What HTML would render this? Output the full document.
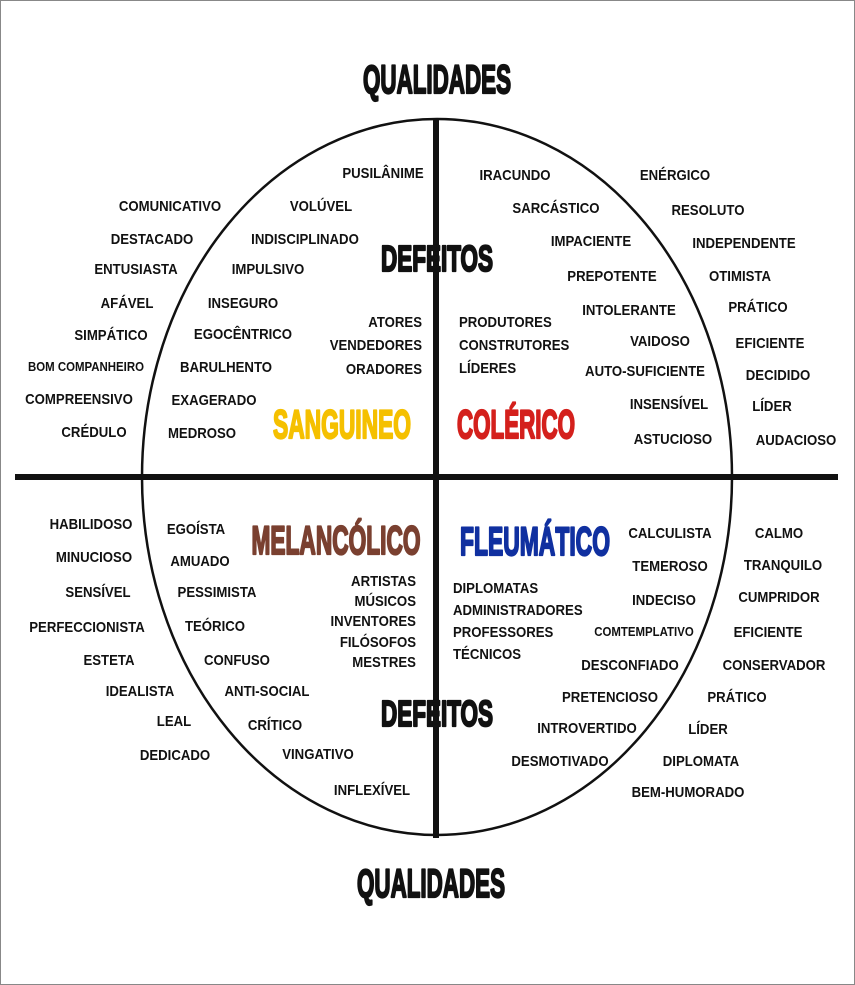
<!DOCTYPE html>
<html><head><meta charset="utf-8"><style>
html,body{margin:0;padding:0;background:#fff}
svg{display:block}
text{font-family:"Liberation Sans",sans-serif;font-weight:bold;font-size:15px;fill:#111;transform-box:fill-box;transform-origin:center;transform:scaleX(.88)}
.s{font-size:13px}
.b{font-size:40px;transform:none;stroke-width:2.2px;stroke-linejoin:round}
.m{text-anchor:middle}
.e{text-anchor:end;transform-origin:right}
.l{transform-origin:left}
</style></head><body>
<svg width="855" height="985" viewBox="0 0 855 985" xmlns="http://www.w3.org/2000/svg">
<rect x="0.5" y="0.5" width="854" height="984" fill="#fff" stroke="#888" stroke-width="1"/>
<ellipse cx="437" cy="477" rx="295" ry="358" fill="none" stroke="#111" stroke-width="2.5"/>
<line x1="15" y1="477" x2="838" y2="477" stroke="#111" stroke-width="6"/>
<line x1="436" y1="120" x2="436" y2="838" stroke="#111" stroke-width="6"/>

<text class="b m" x="437" y="93" textLength="148" lengthAdjust="spacingAndGlyphs" style="stroke:#111">QUALIDADES</text>
<text class="b m" x="431" y="897" textLength="148" lengthAdjust="spacingAndGlyphs" style="stroke:#111">QUALIDADES</text>
<text class="b m" x="437" y="271" textLength="112" lengthAdjust="spacingAndGlyphs" style="font-size:36px;stroke:#111">DEFEITOS</text>
<text class="b m" x="437" y="726" textLength="112" lengthAdjust="spacingAndGlyphs" style="font-size:36px;stroke:#111">DEFEITOS</text>
<text class="b m" x="342" y="438" textLength="138" lengthAdjust="spacingAndGlyphs" style="fill:#f5c000;stroke:#f5c000">SANGUINEO</text>
<text class="b m" x="516" y="438" textLength="118" lengthAdjust="spacingAndGlyphs" style="fill:#d4201c;stroke:#d4201c">COLÉRICO</text>
<text class="b m" x="336" y="554" textLength="169" lengthAdjust="spacingAndGlyphs" style="fill:#7a4030;stroke:#7a4030">MELANCÓLICO</text>
<text class="b m" x="535" y="555" textLength="150" lengthAdjust="spacingAndGlyphs" style="fill:#1030a0;stroke:#1030a0">FLEUMÁTICO</text>

<g>
<text class="m" x="383" y="178">PUSILÂNIME</text>
<text class="m" x="170" y="211">COMUNICATIVO</text>
<text class="m" x="321" y="211">VOLÚVEL</text>
<text class="m" x="152" y="244">DESTACADO</text>
<text class="m" x="305" y="244">INDISCIPLINADO</text>
<text class="m" x="136" y="274">ENTUSIASTA</text>
<text class="m" x="268" y="274">IMPULSIVO</text>
<text class="m" x="127" y="308">AFÁVEL</text>
<text class="m" x="243" y="308">INSEGURO</text>
<text class="m" x="111" y="340">SIMPÁTICO</text>
<text class="m" x="243" y="339">EGOCÊNTRICO</text>
<text class="e" x="422" y="327">ATORES</text>
<text class="e" x="422" y="350">VENDEDORES</text>
<text class="e" x="422" y="374">ORADORES</text>
<text class="m s" x="86" y="371">BOM COMPANHEIRO</text>
<text class="m" x="226" y="372">BARULHENTO</text>
<text class="m" x="79" y="404">COMPREENSIVO</text>
<text class="m" x="214" y="405">EXAGERADO</text>
<text class="m" x="94" y="437">CRÉDULO</text>
<text class="m" x="202" y="438">MEDROSO</text>

<text class="m" x="515" y="180">IRACUNDO</text>
<text class="m" x="675" y="180">ENÉRGICO</text>
<text class="m" x="556" y="213">SARCÁSTICO</text>
<text class="m" x="708" y="215">RESOLUTO</text>
<text class="m" x="591" y="246">IMPACIENTE</text>
<text class="m" x="744" y="248">INDEPENDENTE</text>
<text class="m" x="612" y="281">PREPOTENTE</text>
<text class="m" x="740" y="281">OTIMISTA</text>
<text class="m" x="629" y="315">INTOLERANTE</text>
<text class="m" x="758" y="312">PRÁTICO</text>
<text class="l" x="459" y="327">PRODUTORES</text>
<text class="l" x="459" y="350">CONSTRUTORES</text>
<text class="l" x="459" y="373">LÍDERES</text>
<text class="m" x="660" y="346">VAIDOSO</text>
<text class="m" x="770" y="348">EFICIENTE</text>
<text class="m" x="645" y="376">AUTO-SUFICIENTE</text>
<text class="m" x="778" y="380">DECIDIDO</text>
<text class="m" x="669" y="409">INSENSÍVEL</text>
<text class="m" x="772" y="411">LÍDER</text>
<text class="m" x="673" y="444">ASTUCIOSO</text>
<text class="m" x="796" y="445">AUDACIOSO</text>

<text class="m" x="91" y="529">HABILIDOSO</text>
<text class="m" x="196" y="534">EGOÍSTA</text>
<text class="m" x="94" y="562">MINUCIOSO</text>
<text class="m" x="200" y="566">AMUADO</text>
<text class="m" x="98" y="597">SENSÍVEL</text>
<text class="m" x="217" y="597">PESSIMISTA</text>
<text class="e" x="416" y="586">ARTISTAS</text>
<text class="e" x="416" y="606">MÚSICOS</text>
<text class="e" x="416" y="626">INVENTORES</text>
<text class="e" x="416" y="647">FILÓSOFOS</text>
<text class="e" x="416" y="667">MESTRES</text>
<text class="m" x="87" y="632">PERFECCIONISTA</text>
<text class="m" x="215" y="631">TEÓRICO</text>
<text class="m" x="109" y="665">ESTETA</text>
<text class="m" x="237" y="665">CONFUSO</text>
<text class="m" x="140" y="696">IDEALISTA</text>
<text class="m" x="267" y="696">ANTI-SOCIAL</text>
<text class="m" x="174" y="726">LEAL</text>
<text class="m" x="275" y="730">CRÍTICO</text>
<text class="m" x="175" y="760">DEDICADO</text>
<text class="m" x="318" y="759">VINGATIVO</text>
<text class="m" x="372" y="795">INFLEXÍVEL</text>

<text class="m" x="670" y="538">CALCULISTA</text>
<text class="m" x="779" y="538">CALMO</text>
<text class="m" x="670" y="571">TEMEROSO</text>
<text class="m" x="783" y="570">TRANQUILO</text>
<text class="l" x="453" y="593">DIPLOMATAS</text>
<text class="l" x="453" y="615">ADMINISTRADORES</text>
<text class="l" x="453" y="637">PROFESSORES</text>
<text class="l" x="453" y="659">TÉCNICOS</text>
<text class="m" x="664" y="605">INDECISO</text>
<text class="m" x="779" y="602">CUMPRIDOR</text>
<text class="m s" x="644" y="636">COMTEMPLATIVO</text>
<text class="m" x="768" y="637">EFICIENTE</text>
<text class="m" x="630" y="670">DESCONFIADO</text>
<text class="m" x="774" y="670">CONSERVADOR</text>
<text class="m" x="610" y="702">PRETENCIOSO</text>
<text class="m" x="737" y="702">PRÁTICO</text>
<text class="m" x="587" y="733">INTROVERTIDO</text>
<text class="m" x="708" y="734">LÍDER</text>
<text class="m" x="560" y="766">DESMOTIVADO</text>
<text class="m" x="701" y="766">DIPLOMATA</text>
<text class="m" x="688" y="797">BEM-HUMORADO</text>
</g>
</svg>
</body></html>
